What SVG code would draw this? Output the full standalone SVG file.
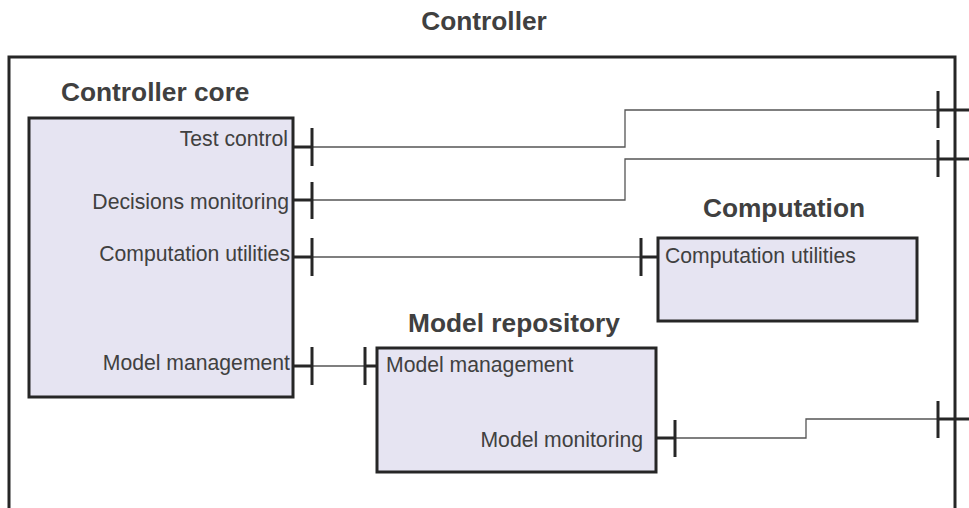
<svg xmlns="http://www.w3.org/2000/svg" width="969" height="508" viewBox="0 0 969 508">
<style>
.title{font-family:"Liberation Sans",Arial,sans-serif;font-weight:bold;font-size:26.3px;fill:#404040}
.lbl{font-family:"Liberation Sans",Arial,sans-serif;font-size:21.2px;fill:#404040}
.box{fill:#e6e4f2;stroke:#262626;stroke-width:3}
.frame{fill:none;stroke:#262626;stroke-width:3}
.wire{fill:none;stroke:#555;stroke-width:1.3}
.stub{stroke:#262626;stroke-width:3;fill:none}
</style>
<rect width="969" height="508" fill="#fff"/>
<g id="controller">
<rect class="frame" x="9" y="57" width="946" height="480"/>
<text class="title" x="484" y="30" text-anchor="middle">Controller</text>
</g>
<g id="controller-core">
<text class="title" x="61" y="101">Controller core</text>
<rect class="box" x="29" y="118" width="264" height="279"/>
<text class="lbl" x="288" y="146" text-anchor="end">Test control</text>
<text class="lbl" x="289" y="209" text-anchor="end">Decisions monitoring</text>
<text class="lbl" x="290" y="261" text-anchor="end">Computation utilities</text>
<text class="lbl" x="290" y="370" text-anchor="end">Model management</text>
</g>
<g id="computation">
<text class="title" x="784" y="217" text-anchor="middle">Computation</text>
<rect class="box" x="658" y="238" width="259" height="83"/>
<text class="lbl" x="665" y="263">Computation utilities</text>
</g>
<g id="model-repository">
<text class="title" x="514" y="332" text-anchor="middle">Model repository</text>
<rect class="box" x="377" y="348" width="279" height="124"/>
<text class="lbl" x="386" y="372">Model management</text>
<text class="lbl" x="643" y="447" text-anchor="end">Model monitoring</text>
</g>
<g id="connectors">
<!-- Test control -->
<polyline class="wire" points="312,147 625,147 625,110 938,110"/>
<line class="stub" x1="293" y1="147" x2="312" y2="147"/>
<line class="stub" x1="312" y1="128" x2="312" y2="166"/>
<line class="stub" x1="938" y1="91" x2="938" y2="128"/>
<line class="stub" x1="938" y1="110" x2="969" y2="110"/>
<!-- Decisions monitoring -->
<polyline class="wire" points="312,200 625,200 625,159 938,159"/>
<line class="stub" x1="293" y1="200" x2="312" y2="200"/>
<line class="stub" x1="312" y1="182" x2="312" y2="219"/>
<line class="stub" x1="938" y1="140" x2="938" y2="177"/>
<line class="stub" x1="938" y1="159" x2="969" y2="159"/>
<!-- Computation utilities -->
<line class="wire" x1="312" y1="257" x2="641" y2="257"/>
<line class="stub" x1="293" y1="257" x2="312" y2="257"/>
<line class="stub" x1="312" y1="238" x2="312" y2="276"/>
<line class="stub" x1="641" y1="238" x2="641" y2="276"/>
<line class="stub" x1="641" y1="257" x2="658" y2="257"/>
<!-- Model management -->
<line class="wire" x1="312" y1="366" x2="365" y2="366"/>
<line class="stub" x1="293" y1="366" x2="312" y2="366"/>
<line class="stub" x1="312" y1="347" x2="312" y2="385"/>
<line class="stub" x1="365" y1="347" x2="365" y2="385"/>
<line class="stub" x1="365" y1="366" x2="377" y2="366"/>
<!-- Model monitoring -->
<polyline class="wire" points="675,438 806,438 806,419 938,419"/>
<line class="stub" x1="656" y1="438" x2="675" y2="438"/>
<line class="stub" x1="675" y1="420" x2="675" y2="457"/>
<line class="stub" x1="938" y1="401" x2="938" y2="438"/>
<line class="stub" x1="938" y1="419" x2="969" y2="419"/>
</g>
</svg>
